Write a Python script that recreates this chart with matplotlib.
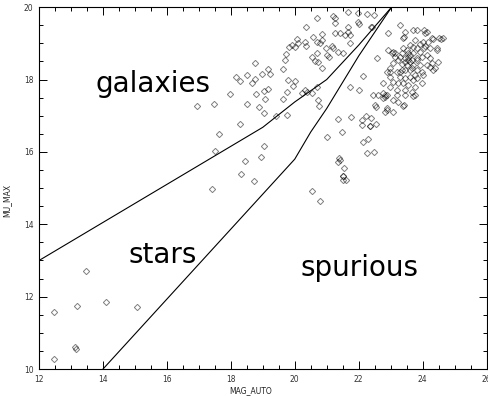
import matplotlib
matplotlib.use("Agg")
import matplotlib.pyplot as plt
from matplotlib.ticker import MultipleLocator

# sources from the catalogue: magnitude vs. peak surface brightness
mag_stars = [12.47, 13.47, 13.19, 14.09, 15.06, 13.13, 13.16, 12.47]
mu_stars = [11.57, 12.71, 11.74, 11.85, 11.71, 10.61, 10.55, 10.28]

mag_gal = [16.94, 17.47, 17.97, 18.16, 18.28, 18.50, 18.50, 18.28, 17.63, 17.50,
           18.44, 18.31, 17.41, 18.75, 18.66, 18.75, 18.97, 19.16, 19.22, 18.78,
           19.03, 19.16, 19.06, 18.88, 19.03, 19.63, 19.72, 19.69, 19.81, 19.91,
           20.06, 19.78, 20.00, 19.94, 19.75, 19.63, 19.75, 19.41, 19.03, 18.94,
           18.72,
           20.34, 20.69, 21.19, 21.25, 21.25, 21.66, 21.97, 22.25, 22.47, 21.97,
           22.41, 21.66, 21.66, 21.25, 21.41, 21.56, 21.72, 20.84, 20.56, 20.69,
           20.78, 20.84, 20.31, 20.09, 20.00, 20.34, 20.97, 21.16, 21.19, 21.72,
           20.69, 21.34, 21.50, 21.00, 21.06, 20.53, 20.63, 20.72, 20.84, 22.00,
           22.38]
mu_gal = [17.27, 17.32, 17.60, 18.07, 17.96, 18.12, 17.32, 16.77, 16.49, 16.02,
          15.75, 15.39, 14.97, 18.45, 17.90, 18.01, 18.15, 18.29, 18.15, 17.60,
          17.68, 17.73, 17.46, 17.24, 17.07, 18.29, 18.70, 18.54, 18.90, 18.95,
          19.12, 17.98, 17.96, 17.82, 17.65, 17.46, 17.02, 16.99, 16.16, 15.86,
          15.19,
          19.45, 19.70, 19.75, 19.70, 19.56, 19.86, 19.83, 19.81, 19.78, 19.59,
          19.45, 19.45, 19.31, 19.28, 19.28, 19.23, 19.23, 19.25, 19.17, 19.03,
          19.01, 19.09, 19.03, 19.01, 18.90, 18.92, 18.87, 18.92, 18.87, 19.01,
          18.73, 18.76, 18.73, 18.67, 18.62, 18.62, 18.51, 18.48, 18.31, 19.53,
          19.45]

mag_faint = [22.56, 22.91, 23.03, 22.13, 21.72, 22.00, 22.44, 22.59, 22.88, 22.75,
             22.53, 20.31, 20.22, 20.69, 20.72, 20.75, 20.38, 20.53,
             23.28, 22.91, 23.41, 23.81, 24.03, 24.06, 24.00, 23.13, 24.28, 24.56,
             24.44, 24.47, 24.22, 24.31, 23.69, 23.38, 23.06, 22.88, 22.81, 22.97,
             23.44, 23.69, 24.13, 23.38, 23.75, 24.06, 24.16, 24.31, 24.50, 24.63,
             24.44, 24.22, 23.06, 23.38, 23.50, 23.69, 23.84, 23.91, 23.69, 23.53,
             23.28, 23.44, 23.59, 23.66, 23.81, 23.97, 24.13, 24.22, 24.28, 24.13,
             23.91, 23.69, 23.50, 23.34, 23.13, 23.06, 22.97, 23.19, 23.28, 23.44,
             23.59, 23.81, 23.97, 24.00, 24.38, 23.28, 23.44, 23.59, 23.69, 23.84,
             22.88, 22.97, 23.06, 23.22, 23.38, 23.53, 23.75, 23.97, 22.75, 22.97,
             23.19, 23.44, 23.66, 23.75, 23.44, 23.19, 22.75, 22.81, 23.06, 23.41,
             22.81, 22.88, 23.53, 23.34, 23.22, 23.59, 23.91, 23.53, 23.66, 23.44,
             23.59, 23.75, 23.34, 23.84, 24.03,
             22.50, 23.22, 21.34, 21.75, 22.09, 22.22, 22.38, 22.09, 22.34, 22.34,
             22.53, 21.47, 21.00, 22.13, 22.28, 22.25, 22.47, 21.38, 21.34, 21.41,
             21.53, 21.50, 21.50, 21.50, 21.59, 20.53, 20.78]
mu_faint = [18.59, 18.81, 18.73, 18.09, 17.79, 17.71, 17.57, 17.57, 17.57, 17.49,
            17.24, 17.71, 17.62, 17.79, 17.43, 17.27, 17.65, 17.62,
            19.50, 19.28, 19.17, 19.36, 19.36, 19.28, 19.03, 18.73, 19.14, 19.12,
            18.81, 18.48, 18.34, 18.26, 17.54, 17.27, 17.10, 17.15, 17.57, 18.20,
            19.31, 19.36, 19.31, 19.14, 19.09, 18.92, 19.03, 19.12, 19.14, 19.14,
            18.87, 18.87, 18.76, 18.87, 18.81, 18.90, 18.87, 18.76, 18.73, 18.62,
            18.62, 18.59, 18.48, 18.54, 18.59, 18.62, 18.67, 18.59, 18.45, 18.40,
            18.40, 18.40, 18.40, 18.43, 18.62, 18.45, 18.31, 18.20, 18.20, 18.26,
            18.26, 18.26, 18.20, 18.12, 18.31, 18.07, 18.04, 18.07, 17.98, 18.04,
            18.20, 18.07, 17.93, 17.90, 17.90, 17.85, 17.79, 17.90, 17.90, 17.79,
            17.71, 17.71, 17.65, 17.57, 17.57, 17.57, 17.62, 17.51, 17.43, 17.29,
            17.10, 17.21, 18.73, 18.73, 18.54, 18.95, 18.98, 18.54, 18.31, 18.48,
            18.67, 18.12, 18.26, 18.54, 18.87,
            17.29, 17.38, 16.91, 16.96, 16.88, 16.99, 16.93, 16.74, 16.71, 16.71,
            16.77, 16.55, 16.41, 16.27, 16.35, 15.97, 15.99, 15.83, 15.72, 15.77,
            15.55, 15.33, 15.33, 15.22, 15.22, 14.92, 14.64]

# class boundaries
galaxy_line_mag = [12.0, 19.0, 20.0, 21.0, 22.0, 23.03]
galaxy_line_mu = [13.0, 16.68, 17.38, 18.0, 18.95, 20.0]
star_line_mag = [14.0, 20.0, 20.5, 21.0, 22.0, 23.03]
star_line_mu = [10.0, 15.8, 16.55, 17.2, 18.65, 20.0]

fig = plt.figure(figsize=(4.88, 3.96), dpi=100)
ax = fig.add_axes([0.08, 0.068, 0.917, 0.914])

pt_style = dict(linestyle="none", marker="D", ms=3.2, mfc="none",
                mec=(0, 0, 0, 0.5), mew=0.7)
ax.plot(mag_stars, mu_stars, **pt_style)
ax.plot(mag_gal, mu_gal, **pt_style)
ax.plot(mag_faint, mu_faint, **pt_style)

ax.plot(galaxy_line_mag, galaxy_line_mu, color="black", lw=0.8)
ax.plot(star_line_mag, star_line_mu, color="black", lw=0.8)

ax.text(15.58, 17.65, "galaxies", fontsize=20, ha="center", va="baseline")
ax.text(15.86, 12.94, "stars", fontsize=20, ha="center", va="baseline")
ax.text(22.02, 12.57, "spurious", fontsize=20, ha="center", va="baseline")

ax.set_xlim(12, 26)
ax.set_ylim(10, 20)
ax.xaxis.set_major_locator(MultipleLocator(2))
ax.xaxis.set_minor_locator(MultipleLocator(0.5))
ax.yaxis.set_major_locator(MultipleLocator(2))
ax.yaxis.set_minor_locator(MultipleLocator(0.5))
ax.tick_params(which="both", direction="in", top=True, right=True,
               width=0.7, labelsize=5.5, labelcolor="#333333")
ax.tick_params(which="major", length=5.5, pad=4)
ax.tick_params(which="minor", length=3)
for sp in ax.spines.values():
    sp.set_linewidth(0.8)

ax.set_xlabel("MAG_AUTO", fontsize=5.5, color="#222222")
ax.set_ylabel("MU_MAX", fontsize=5.5, color="#222222")
ax.xaxis.set_label_coords(0.473, -0.048)
ax.yaxis.set_label_coords(-0.062, 0.467)

fig.savefig("out.png", dpi=100)
